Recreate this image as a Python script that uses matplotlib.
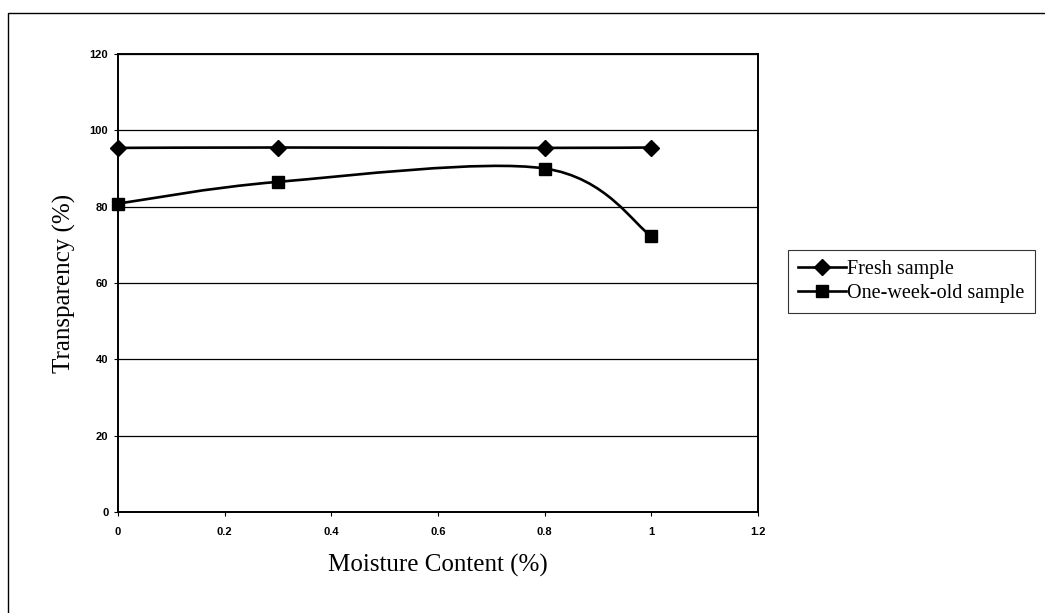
import matplotlib
matplotlib.use("Agg")
import matplotlib.pyplot as plt
from matplotlib.path import Path
from matplotlib.patches import PathPatch
from matplotlib.lines import Line2D
import numpy as np

# ── Data ──
moisture = [0.0, 0.3, 0.8, 1.0]
fresh = [95.4, 95.5, 95.4, 95.5]
week_old = [80.8, 86.5, 90.0, 72.3]

x_ticks = [0, 0.2, 0.4, 0.6, 0.8, 1, 1.2]
x_tick_labels = ["0", "0.2", "0.4", "0.6", "0.8", "1", "1.2"]
y_ticks = [0, 20, 40, 60, 80, 100, 120]


def smooth_path(xs, ys):
    """Excel-style smoothed line: Catmull-Rom converted to cubic Bezier."""
    pts = np.column_stack([xs, ys]).astype(float)
    n = len(pts)
    verts = [pts[0]]
    codes = [Path.MOVETO]
    for i in range(n - 1):
        p0 = pts[i - 1] if i > 0 else pts[i]
        p1 = pts[i]
        p2 = pts[i + 1]
        p3 = pts[i + 2] if i + 2 < n else pts[i + 1]
        c1 = p1 + (p2 - p0) / 6.0
        c2 = p2 - (p3 - p1) / 6.0
        verts += [c1, c2, p2]
        codes += [Path.CURVE4] * 3
    return Path(verts, codes)


W, H = 1045, 613
fig = plt.figure(figsize=(W / 100, H / 100), dpi=100)
ax = fig.add_axes([118 / W, 1 - 512 / H, 640 / W, 458 / H])

# outer chart border (only top and left edges visible in the scan)
fig.lines.append(Line2D([8 / W, 8 / W, 1.0], [0.0, 1 - 12.7 / H, 1 - 12.7 / H],
                        transform=fig.transFigure, color='black', linewidth=1.0))

lw = 1.9
for ys, marker, ms, label in [(fresh, 'D', 8, 'Fresh sample'),
                              (week_old, 's', 9, 'One-week-old sample')]:
    ax.add_patch(PathPatch(smooth_path(moisture, ys), fill=False,
                           edgecolor='black', linewidth=lw, zorder=3))
    ax.plot(moisture, ys, linestyle='none', marker=marker, markersize=ms,
            color='black', zorder=4, clip_on=False)
    # proxy for legend
    ax.plot([], [], '-', marker=marker, markersize=ms, color='black',
            linewidth=lw, label=label)

ax.set_xlim(0, 1.2)
ax.set_ylim(0, 120)
ax.set_xticks(x_ticks)
ax.set_xticklabels(x_tick_labels)
ax.set_yticks(y_ticks)
for lab in ax.get_xticklabels() + ax.get_yticklabels():
    lab.set_family('Liberation Sans')
    lab.set_fontsize(8)
    lab.set_fontweight('bold')
ax.tick_params(axis='both', length=3, width=0.8, direction='out')
ax.tick_params(axis='x', pad=8)
ax.tick_params(axis='y', pad=4)

ax.yaxis.grid(True, color='black', linewidth=0.9)
ax.set_axisbelow(True)
for s in ax.spines.values():
    s.set_linewidth(1.4)
    s.set_color('black')

ax.set_xlabel("Moisture Content (%)", family='Liberation Serif', fontsize=18)
ax.set_ylabel("Transparency (%)", family='Liberation Serif', fontsize=18)
ax.xaxis.set_label_coords(0.5, -(565 - 512) / 458, transform=ax.transAxes)
ax.xaxis.label.set_va('center')
ax.yaxis.set_label_coords(-(118 - 64) / 640, 0.5, transform=ax.transAxes)
ax.yaxis.label.set_va('center')

leg = ax.legend(loc='upper left', bbox_to_anchor=(788 / W, 1 - 250 / H),
                bbox_transform=fig.transFigure, frameon=True,
                fancybox=False, edgecolor='black', handlelength=2.4, handletextpad=0.05,
                borderpad=0.5, borderaxespad=0, labelspacing=0.25,
                prop={'family': 'Liberation Serif', 'size': 14.5})
leg.get_frame().set_linewidth(0.8)

fig.savefig("out.png", dpi=100)
